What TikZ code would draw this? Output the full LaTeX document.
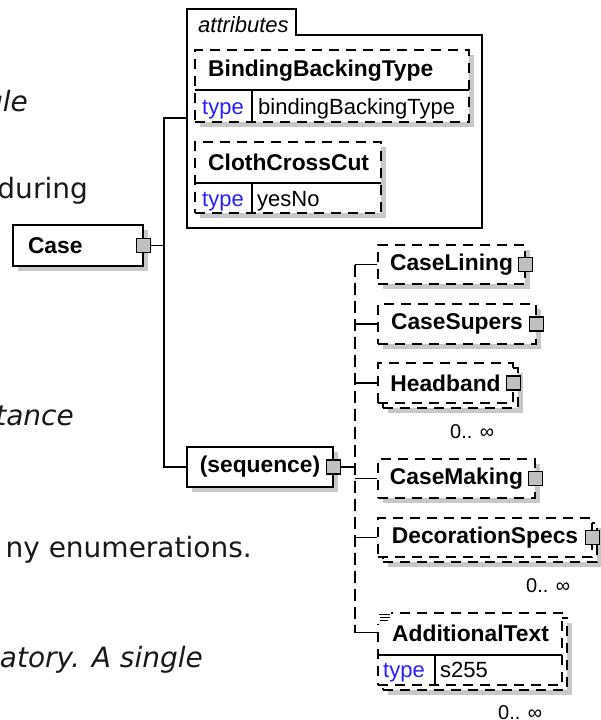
\documentclass[tikz,border=0pt]{standalone}
\usepackage{fontspec}
\setmainfont{Liberation Sans}
\newfontfamily\pagefont{DejaVu Sans}
\usepackage{tikz}

\newcommand\namefont{\bfseries\fontsize{22.8}{26}\selectfont}
\newcommand\plainfont{\fontsize{22}{26}\selectfont}
\newcommand\occfont{\fontsize{20}{24}\selectfont}
\newcommand\bodyfont{\pagefont\fontsize{28}{34}\selectfont}

\begin{document}
\begin{tikzpicture}[x=1pt,y=-1pt,line join=miter,
  boxline/.style={draw=black,line width=1.1pt},
  elembox/.style={boxline,fill=white,inner sep=0pt,font=\namefont},
  optbox/.style={elembox,dash pattern=on 10pt off 7pt},
  castshadow/.style={preaction={fill=shadegray,draw=none,transform canvas={shift={(5,5)}}}},
  stacked/.style={preaction={fill=shadegray,draw=none,transform canvas={shift={(10,10)}}},
    preaction={fill=white,draw=black,line width=1.1pt,dash pattern=on 10pt off 7pt,
      transform canvas={shift={(5,5)}}}},
  expander/.style={draw=black,line width=1.1pt,fill=expgray,minimum size=14pt,inner sep=0pt},
  nametext/.style={anchor=base west,inner sep=0pt,font=\namefont},
  typekey/.style={anchor=base west,inner sep=0pt,font=\plainfont,text=typeblue},
  typeval/.style={anchor=base west,inner sep=0pt,font=\plainfont},
  occurs/.style={anchor=base west,inner sep=0pt,font=\occfont},
  pagetext/.style={anchor=base east,inner sep=0pt,font=\bodyfont,text=inkgray}]

  \definecolor{shadegray}{RGB}{200,200,200}
  \definecolor{expgray}{RGB}{192,192,192}
  \definecolor{typeblue}{RGB}{40,30,255}
  \definecolor{inkgray}{RGB}{25,25,25}

  \useasboundingbox (0,0) rectangle (601,720);

  % ---- page text cut off at the left ----
  \node[pagetext] (txtgle) at (28,111) {\itshape gle};
  \node[pagetext] (txtduring) at (88,198) {during};
  \node[pagetext] (txttance) at (74,425) {\itshape tance};
  \node[pagetext] (txtenum) at (252,557) {ny enumerations.};
  \node[pagetext] (txtsingle) at (203,667) {\itshape atory. A single};

  % ---- root element ----
  \node[elembox,castshadow,minimum height=41pt,text width=100pt,inner xsep=15pt,align=left] (case) at (78,245.5) {Case};
  \node[expander] (caseexp) at (case.east) {};

  % ---- attributes group ----
  \draw[boxline] (187,228) |- (296,9) |- (482,35) |- (187,228) -- cycle;
  \node[anchor=base west,inner sep=0pt,font=\plainfont\itshape] (attrtag) at (198,32) {attributes};
  \coordinate (attrsin) at (187,118);

  \node[optbox,castshadow,minimum width=274pt,minimum height=72pt] (bbt) at (332,86) {};
  \draw[boxline] (195,90) -- (469,90);
  \draw[boxline] (252,90) -- (252,122);
  \node[nametext] (bbtname) at (208,76) {BindingBackingType};
  \node[typekey] (bbtkey) at (202,114) {type};
  \node[typeval] (bbtval) at (258,114) {bindingBackingType};

  \node[optbox,castshadow,minimum width=186pt,minimum height=71pt] (cloth) at (288,177.5) {};
  \draw[boxline] (195,183) -- (381,183);
  \draw[boxline] (252,183) -- (252,213);
  \node[nametext] (clothname) at (208,170) {ClothCrossCut};
  \node[typekey] (clothkey) at (202,206) {type};
  \node[typeval] (clothval) at (257,206) {yesNo};

  % ---- sequence ----
  \node[elembox,castshadow,minimum width=146pt,minimum height=40pt] (seq) at (260,467) {(sequence)};
  \node[expander] (seqexp) at (seq.east) {};

  \coordinate (fork) at (164,245.5);
  \draw[boxline] (caseexp.east) -- (fork);
  \draw[boxline] (attrsin) -| (fork) |- (seq.west);

  % ---- children of the sequence ----
  \node[optbox,castshadow,minimum width=147pt,minimum height=39pt] (caselining) at (451.5,264.5) {CaseLining};
  \node[expander] (caseliningexp) at (caselining.east) {};

  \node[optbox,castshadow,minimum width=158pt,minimum height=40pt] (casesupers) at (457,324) {CaseSupers};
  \node[expander] (casesupersexp) at (casesupers.east) {};

  \node[optbox,stacked,minimum width=135pt,minimum height=40pt] (headband) at (445.5,383) {Headband};
  \node[expander] (headbandexp) at (headband.east) {};
  \node[occurs] (headbandocc) at (450,438) {0.. ∞};

  \node[optbox,castshadow,minimum width=157pt,minimum height=39pt] (casemaking) at (456.5,478.5) {CaseMaking};
  \node[expander] (casemakingexp) at (casemaking.east) {};

  \node[optbox,stacked,minimum width=214pt,minimum height=39pt] (decspecs) at (485,537.5) {DecorationSpecs};
  \node[expander] (decspecsexp) at (decspecs.east) {};
  \node[occurs] (decspecsocc) at (526,592) {0.. ∞};

  \node[optbox,stacked,minimum width=184pt,minimum height=72pt] (addtext) at (470,649) {};
  \draw[boxline] (378,655) -- (562,655);
  \draw[boxline] (435,655) -- (435,685);
  \node[nametext] (addtextname) at (392,641) {AdditionalText};
  \node[typekey] (addtextkey) at (383,677) {type};
  \node[typeval] (addtextval) at (440,677) {s255};
  \node[occurs] (addtextocc) at (498,719) {0.. ∞};

  % doc icon
  \fill[white] (377,612) rectangle (391,624);
  \draw[line width=0.8pt] (379,614) -- (390,614) (380,617) -- (390,617) (380,620) -- (388,620);

  % ---- sequence rail ----
  \coordinate (rail) at (355,264.5);
  \draw[boxline] (seqexp.east) -- (seqexp.east -| rail);
  \draw[boxline,dash pattern=on 12pt off 6pt] (rail |- caselining.west) -- (rail |- addtextname.west);
  \foreach \kid in {caselining,casesupers,headband,casemaking,decspecs}
    \draw[boxline] (rail |- \kid.west) -- (\kid.west);
  \draw[boxline] (rail |- addtextname.west) -- (addtext.west |- addtextname.west);

\end{tikzpicture}
\end{document}
